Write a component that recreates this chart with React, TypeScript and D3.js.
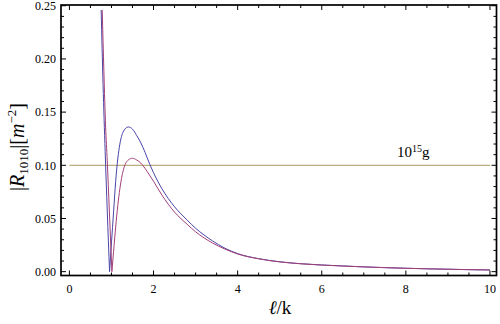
import { useEffect, useRef } from "react"
import * as d3 from "d3"

const W = 500
const H = 324

// blue curve
const blueX = [0.755, 0.8, 0.85, 0.9, 0.955, 1.0, 1.05, 1.1, 1.15, 1.2, 1.3, 1.4, 1.5, 1.6, 1.7, 1.8, 1.9, 2.0, 2.2, 2.5, 2.8, 3.0, 3.2, 3.4, 3.7, 4.0, 4.5, 5.0, 5.5, 6.0, 6.5, 7.0, 7.5, 8.0, 8.5, 9.0, 9.5, 10]
const blueY = [0.246, 0.176, 0.113, 0.057, 0, 0.027, 0.056, 0.085, 0.106, 0.12, 0.133, 0.136, 0.134, 0.128, 0.121, 0.112, 0.102, 0.093, 0.078, 0.061, 0.0485, 0.0408, 0.0345, 0.029, 0.022, 0.017, 0.0122, 0.0093, 0.0075, 0.0063, 0.0054, 0.0045, 0.0038, 0.0032, 0.0027, 0.0023, 0.0019, 0.0016]

// purple curve
const purpleX = [0.78, 0.82, 0.86, 0.9, 0.95, 1.01, 1.05, 1.1, 1.15, 1.2, 1.25, 1.3, 1.4, 1.5, 1.6, 1.7, 1.8, 1.9, 2.0, 2.2, 2.5, 2.8, 3.0, 3.2, 3.4, 3.7, 4.0, 4.5, 5.0, 5.5, 6.0, 6.5, 7.0, 7.5, 8.0, 8.5, 9.0, 9.5, 10]
const purpleY = [0.246, 0.188, 0.137, 0.104, 0.057, 0, 0.019, 0.042, 0.062, 0.078, 0.09, 0.098, 0.105, 0.1066, 0.105, 0.102, 0.097, 0.091, 0.085, 0.072, 0.056, 0.0445, 0.0375, 0.0318, 0.027, 0.0212, 0.0166, 0.0121, 0.0092, 0.0074, 0.0062, 0.0053, 0.0045, 0.0038, 0.0032, 0.0027, 0.0023, 0.0019, 0.0016]

const refLevel = 0.1
const xTicks = [0, 2, 4, 6, 8, 10]
const yTicks = [0, 0.05, 0.1, 0.15, 0.2, 0.25]

const App = () => {
  const svgRef = useRef<SVGSVGElement>(null)

  useEffect(() => {
    const svg = d3.select(svgRef.current)
    svg.selectAll("*").remove()

    const left = 61
    const right = 496.5
    const top = 5
    const bottom = 275.5

    const x = d3.scaleLinear().domain([-0.2, 10.155]).range([left, right])
    const y = d3.scaleLinear().domain([-0.0036, 0.2507]).range([bottom, top])

    const font = "Liberation Serif, Times New Roman, Times, serif"

    // clip to frame
    svg.append("defs").append("clipPath").attr("id", "plotclip")
      .append("rect").attr("x", left).attr("y", top).attr("width", right - left).attr("height", bottom - top)

    const plot = svg.append("g").attr("clip-path", "url(#plotclip)")

    // reference line
    plot.append("line")
      .attr("x1", x(0)).attr("x2", x(10))
      .attr("y1", y(refLevel)).attr("y2", y(refLevel))
      .attr("stroke", "#a89a5c").attr("stroke-width", 1)

    const line = d3.line<[number, number]>()
      .x((d) => x(d[0]))
      .y((d) => y(d[1]))
      .curve(d3.curveMonotoneX)

    const drawSeries = (xs: number[], ys: number[], color: string) => {
      const pts: [number, number][] = xs.map((v, i) => [v, ys[i]])
      // split at the zero so the V stays sharp
      const iz = ys.indexOf(0)
      const parts = [pts.slice(0, iz + 1), pts.slice(iz)]
      parts.forEach((p) => {
        plot.append("path")
          .datum(p)
          .attr("fill", "none")
          .attr("stroke", color)
          .attr("stroke-width", 1)
          .attr("d", line)
      })
    }

    drawSeries(blueX, blueY, "#4a44a6")
    drawSeries(purpleX, purpleY, "#a23f78")

    // label on ref line
    const lab = svg.append("text")
      .attr("x", 397).attr("y", 157)
      .attr("font-family", font).attr("font-size", 15).attr("fill", "#000")
    lab.append("tspan").text("10")
    lab.append("tspan").attr("dy", -5).attr("font-size", 10).text("15")
    lab.append("tspan").attr("dy", 5).text("g")

    // frame
    svg.append("rect")
      .attr("x", left).attr("y", top).attr("width", right - left).attr("height", bottom - top)
      .attr("fill", "none").attr("stroke", "#000").attr("stroke-width", 1.7)

    const ticks = svg.append("g").attr("stroke", "#000").attr("stroke-width", 1)
    const xMinor = d3.range(0, 10.01, 0.5)
    const yMinor = d3.range(0, 0.2501, 0.01)
    xMinor.forEach((v) => {
      const major = Math.abs(v / 2 - Math.round(v / 2)) < 1e-6
      const len = major ? 5 : 3
      ticks.append("line").attr("x1", x(v)).attr("x2", x(v)).attr("y1", bottom).attr("y2", bottom - len)
      ticks.append("line").attr("x1", x(v)).attr("x2", x(v)).attr("y1", top).attr("y2", top + len)
    })
    yMinor.forEach((v) => {
      const major = Math.abs(v / 0.05 - Math.round(v / 0.05)) < 1e-6
      const len = major ? 5 : 3
      ticks.append("line").attr("x1", left).attr("x2", left + len).attr("y1", y(v)).attr("y2", y(v))
      ticks.append("line").attr("x1", right).attr("x2", right - len).attr("y1", y(v)).attr("y2", y(v))
    })

    // tick labels
    svg.append("g").selectAll("text").data(xTicks).enter().append("text")
      .attr("x", (d) => x(d)).attr("y", 293)
      .attr("text-anchor", "middle")
      .attr("font-family", font).attr("font-size", 12)
      .text((d) => d)

    svg.append("g").selectAll("text").data(yTicks).enter().append("text")
      .attr("x", 56).attr("y", (d) => y(d)).attr("dy", "0.35em")
      .attr("text-anchor", "end")
      .attr("font-family", font).attr("font-size", 12)
      .text((d) => d3.format(".2f")(d))

    // axis titles
    const xl = svg.append("text")
      .attr("x", 280).attr("y", 314).attr("text-anchor", "middle")
      .attr("font-family", font).attr("font-size", 19)
    xl.append("tspan").attr("font-style", "italic").text("ℓ")
    xl.append("tspan").text("/k")

    const yl = svg.append("text")
      .attr("transform", "translate(24,147) rotate(-90)")
      .attr("text-anchor", "middle")
      .attr("font-family", font).attr("font-size", 20)
    yl.append("tspan").text("|")
    yl.append("tspan").attr("font-style", "italic").text("R")
    yl.append("tspan").attr("dy", 4).attr("font-size", 13).text("1010")
    yl.append("tspan").attr("dy", -4).text("|[")
    yl.append("tspan").attr("font-style", "italic").text("m")
    yl.append("tspan").attr("dy", -8).attr("font-size", 13).text("−2")
    yl.append("tspan").attr("dy", 8).text("]")
  }, [])

  return (
    <svg
      ref={svgRef}
      width={W}
      height={H}
      style={{ position: "absolute", left: 0, top: 0, background: "#fff" }}
    ></svg>
  )
}

export default App
